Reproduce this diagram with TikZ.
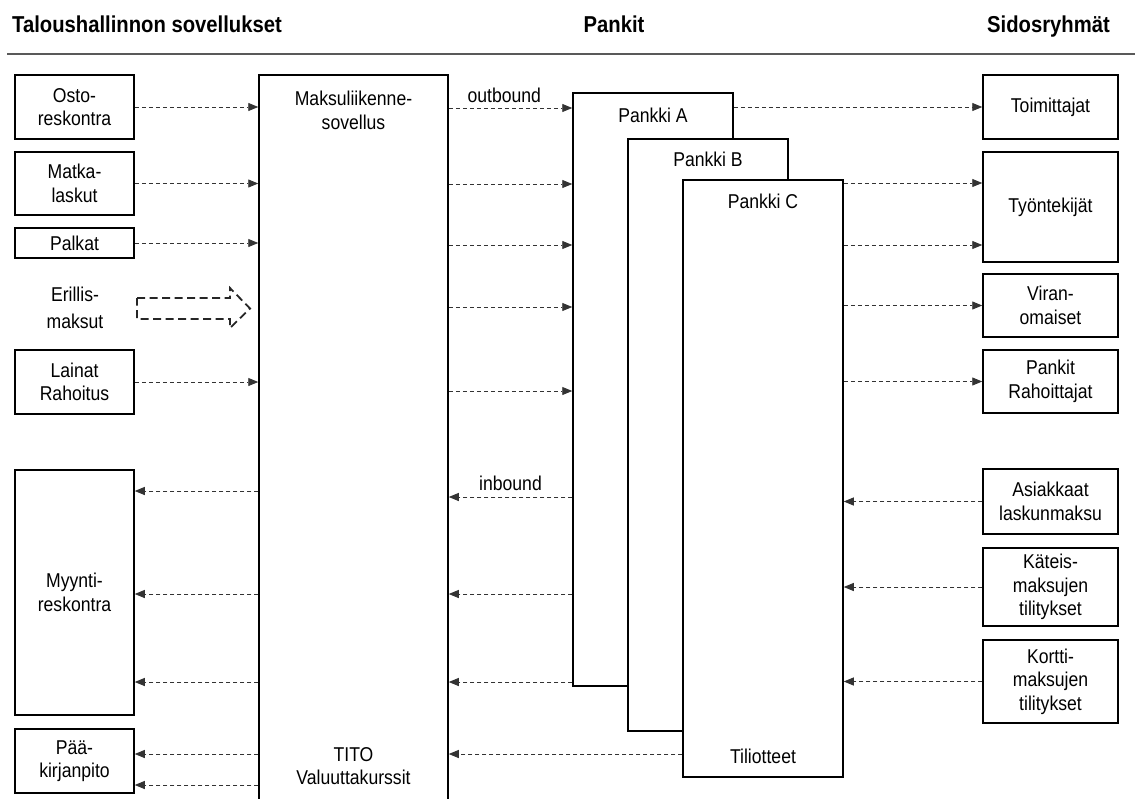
\documentclass[tikz,border=0pt]{standalone}
\usepackage{fontspec}
\setmainfont{Liberation Sans}[FakeStretch=0.88]
\usetikzlibrary{arrows.meta,calc}
\newcommand\txtfont{\fontsize{20}{23.5}\selectfont}
\newcommand\hdrfont{\fontsize{23}{27}\selectfont\bfseries}
\tikzset{
 box/.style={draw, line width=1.5pt, inner sep=0pt, align=center, font=\txtfont},
 lbox/.style={box, minimum width=119pt},
 rbox/.style={box, minimum width=135pt},
 bankbox/.style={box, fill=white, minimum width=160pt},
 lbl/.style={inner sep=0pt, align=center, font=\txtfont},
 hdr/.style={inner sep=0pt, font=\hdrfont},
 flow/.style={draw=black!80, line width=0.9pt, dash pattern=on 4pt off 3pt, -{Triangle[length=10pt,width=8pt]}},
 bigarrow/.style={draw=black!85, line width=1.8pt, dash pattern=on 8pt off 4.5pt},
}
\begin{document}
\begin{tikzpicture}[x=1pt,y=-1pt]
\useasboundingbox (0,0) rectangle (1135,798);
\clip (0,0) rectangle (1135,798);
% headers
\node[hdr, anchor=base west] (h1) at (12,32) {Taloushallinnon sovellukset};
\node[hdr, anchor=base] (h2) at (614,32) {Pankit};
\node[hdr, anchor=base east] (h3) at (1110,32) {Sidosryhmät};
\draw[black!65, line width=1.3pt] (7,54) -- (1135,54);
% left boxes
\node[lbox, minimum height=64pt] (osto) at (74.5,107) {Osto-\\reskontra};
\node[lbox, minimum height=63pt] (matka) at (74.5,183.5) {Matka-\\laskut};
\node[lbox, minimum height=30pt] (palkat) at (74.5,243) {Palkat};
\node[lbl] (eri) at (75,308) {Erillis-\\[3pt]maksut};
\node[lbox, minimum height=64pt] (lainat) at (74.5,382) {Lainat\\Rahoitus};
\node[lbox, minimum height=245pt] (myynti) at (74.5,592.5) {Myynti-\\reskontra};
\node[lbox, minimum height=64pt] (paa) at (74.5,761) {Pää-\\kirjanpito};
% main application box
\node[box, minimum width=189pt, minimum height=755pt] (main) at (353.5,452.5) {};
\node[lbl] (mtxt) at ($(main.north)+(0,36)$) {Maksuliikenne-\\sovellus};
\node[lbl] (tito) at (353.5,766) {TITO\\Valuuttakurssit};
% banks
\node[bankbox, minimum height=593pt] (A) at (653,389.5) {};
\node[bankbox, minimum height=592pt] (B) at (708,435) {};
\node[bankbox, minimum height=597pt] (C) at (763,478.5) {};
\node[lbl] (atxt) at ($(A.north)+(0,23)$) {Pankki A};
\node[lbl] (btxt) at ($(B.north)+(0,21)$) {Pankki B};
\node[lbl] (ctxt) at ($(C.north)+(0,22)$) {Pankki C};
\node[lbl] (tili) at (763,756) {Tiliotteet};
% right boxes
\node[rbox, minimum height=64pt] (toim) at (1050.5,107) {Toimittajat};
\node[rbox, minimum height=110pt] (tyo) at (1050.5,207) {Työntekijät};
\node[rbox, minimum height=63pt] (viran) at (1050.5,305.5) {Viran-\\omaiset};
\node[rbox, minimum height=63pt] (prah) at (1050.5,381.5) {Pankit\\Rahoittajat};
\node[rbox, minimum height=65pt] (asi) at (1050.5,501.5) {Asiakkaat\\laskunmaksu};
\node[rbox, minimum height=78pt] (kat) at (1050.5,587) {Käteis-\\maksujen\\tilitykset};
\node[rbox, minimum height=83pt] (kor) at (1050.5,681.5) {Kortti-\\maksujen\\tilitykset};
% helper rows
\coordinate (r108) at (0,108);
\coordinate (r184) at (0,184);
\coordinate (r245) at (0,245);
\coordinate (r307) at (0,307);
\coordinate (r391) at (0,391);
\coordinate (r497) at (0,497);
\coordinate (r491) at (0,491);
\coordinate (r594) at (0,594);
\coordinate (r682) at (0,682);
\coordinate (r754) at (0,754);
\coordinate (r785) at (0,785);
\coordinate (r183) at (0,183);
% left -> main
\draw[flow] (osto.east) -- (osto.east -| main.west);
\draw[flow] (matka.east) -- (matka.east -| main.west);
\draw[flow] (palkat.east) -- (palkat.east -| main.west);
\draw[flow] (lainat.east) -- (lainat.east -| main.west);
% block arrow Erillismaksut
\draw[bigarrow] (137,298) -- (230,298) -- (230,288) -- (250,308.5) -- (230,328) -- (230,319) -- (137,319) -- cycle;
% main -> Myynti / Paa
\draw[flow] (main.west |- r491) -- (myynti.east |- r491);
\draw[flow] (main.west |- r594) -- (myynti.east |- r594);
\draw[flow] (main.west |- r682) -- (myynti.east |- r682);
\draw[flow] (main.west |- r754) -- (paa.east |- r754);
\draw[flow] (main.west |- r785) -- (paa.east |- r785);
% main -> bank A (outbound)
\draw[flow] (main.east |- r108) -- node[lbl, above=5pt, pos=0.45] (outl) {outbound} (A.west |- r108);
\draw[flow] (main.east |- r184) -- (A.west |- r184);
\draw[flow] (main.east |- r245) -- (A.west |- r245);
\draw[flow] (main.east |- r307) -- (A.west |- r307);
\draw[flow] (main.east |- r391) -- (A.west |- r391);
% banks -> main (inbound)
\draw[flow] (A.west |- r497) -- node[lbl, above=6pt, pos=0.5] (inl) {inbound} (main.east |- r497);
\draw[flow] (A.west |- r594) -- (main.east |- r594);
\draw[flow] (A.west |- r682) -- (main.east |- r682);
\draw[flow] (C.west |- r754) -- (main.east |- r754);
% banks -> stakeholders
\draw[flow] (A.east |- toim.west) -- (toim.west);
\draw[flow] (C.east |- r183) -- (tyo.west |- r183);
\draw[flow] (C.east |- r245) -- (tyo.west |- r245);
\draw[flow] (C.east |- viran.west) -- (viran.west);
\draw[flow] (C.east |- prah.west) -- (prah.west);
% stakeholders -> bank C
\draw[flow] (asi.west) -- (asi.west -| C.east);
\draw[flow] (kat.west) -- (kat.west -| C.east);
\draw[flow] (kor.west) -- (kor.west -| C.east);
\end{tikzpicture}
\end{document}
